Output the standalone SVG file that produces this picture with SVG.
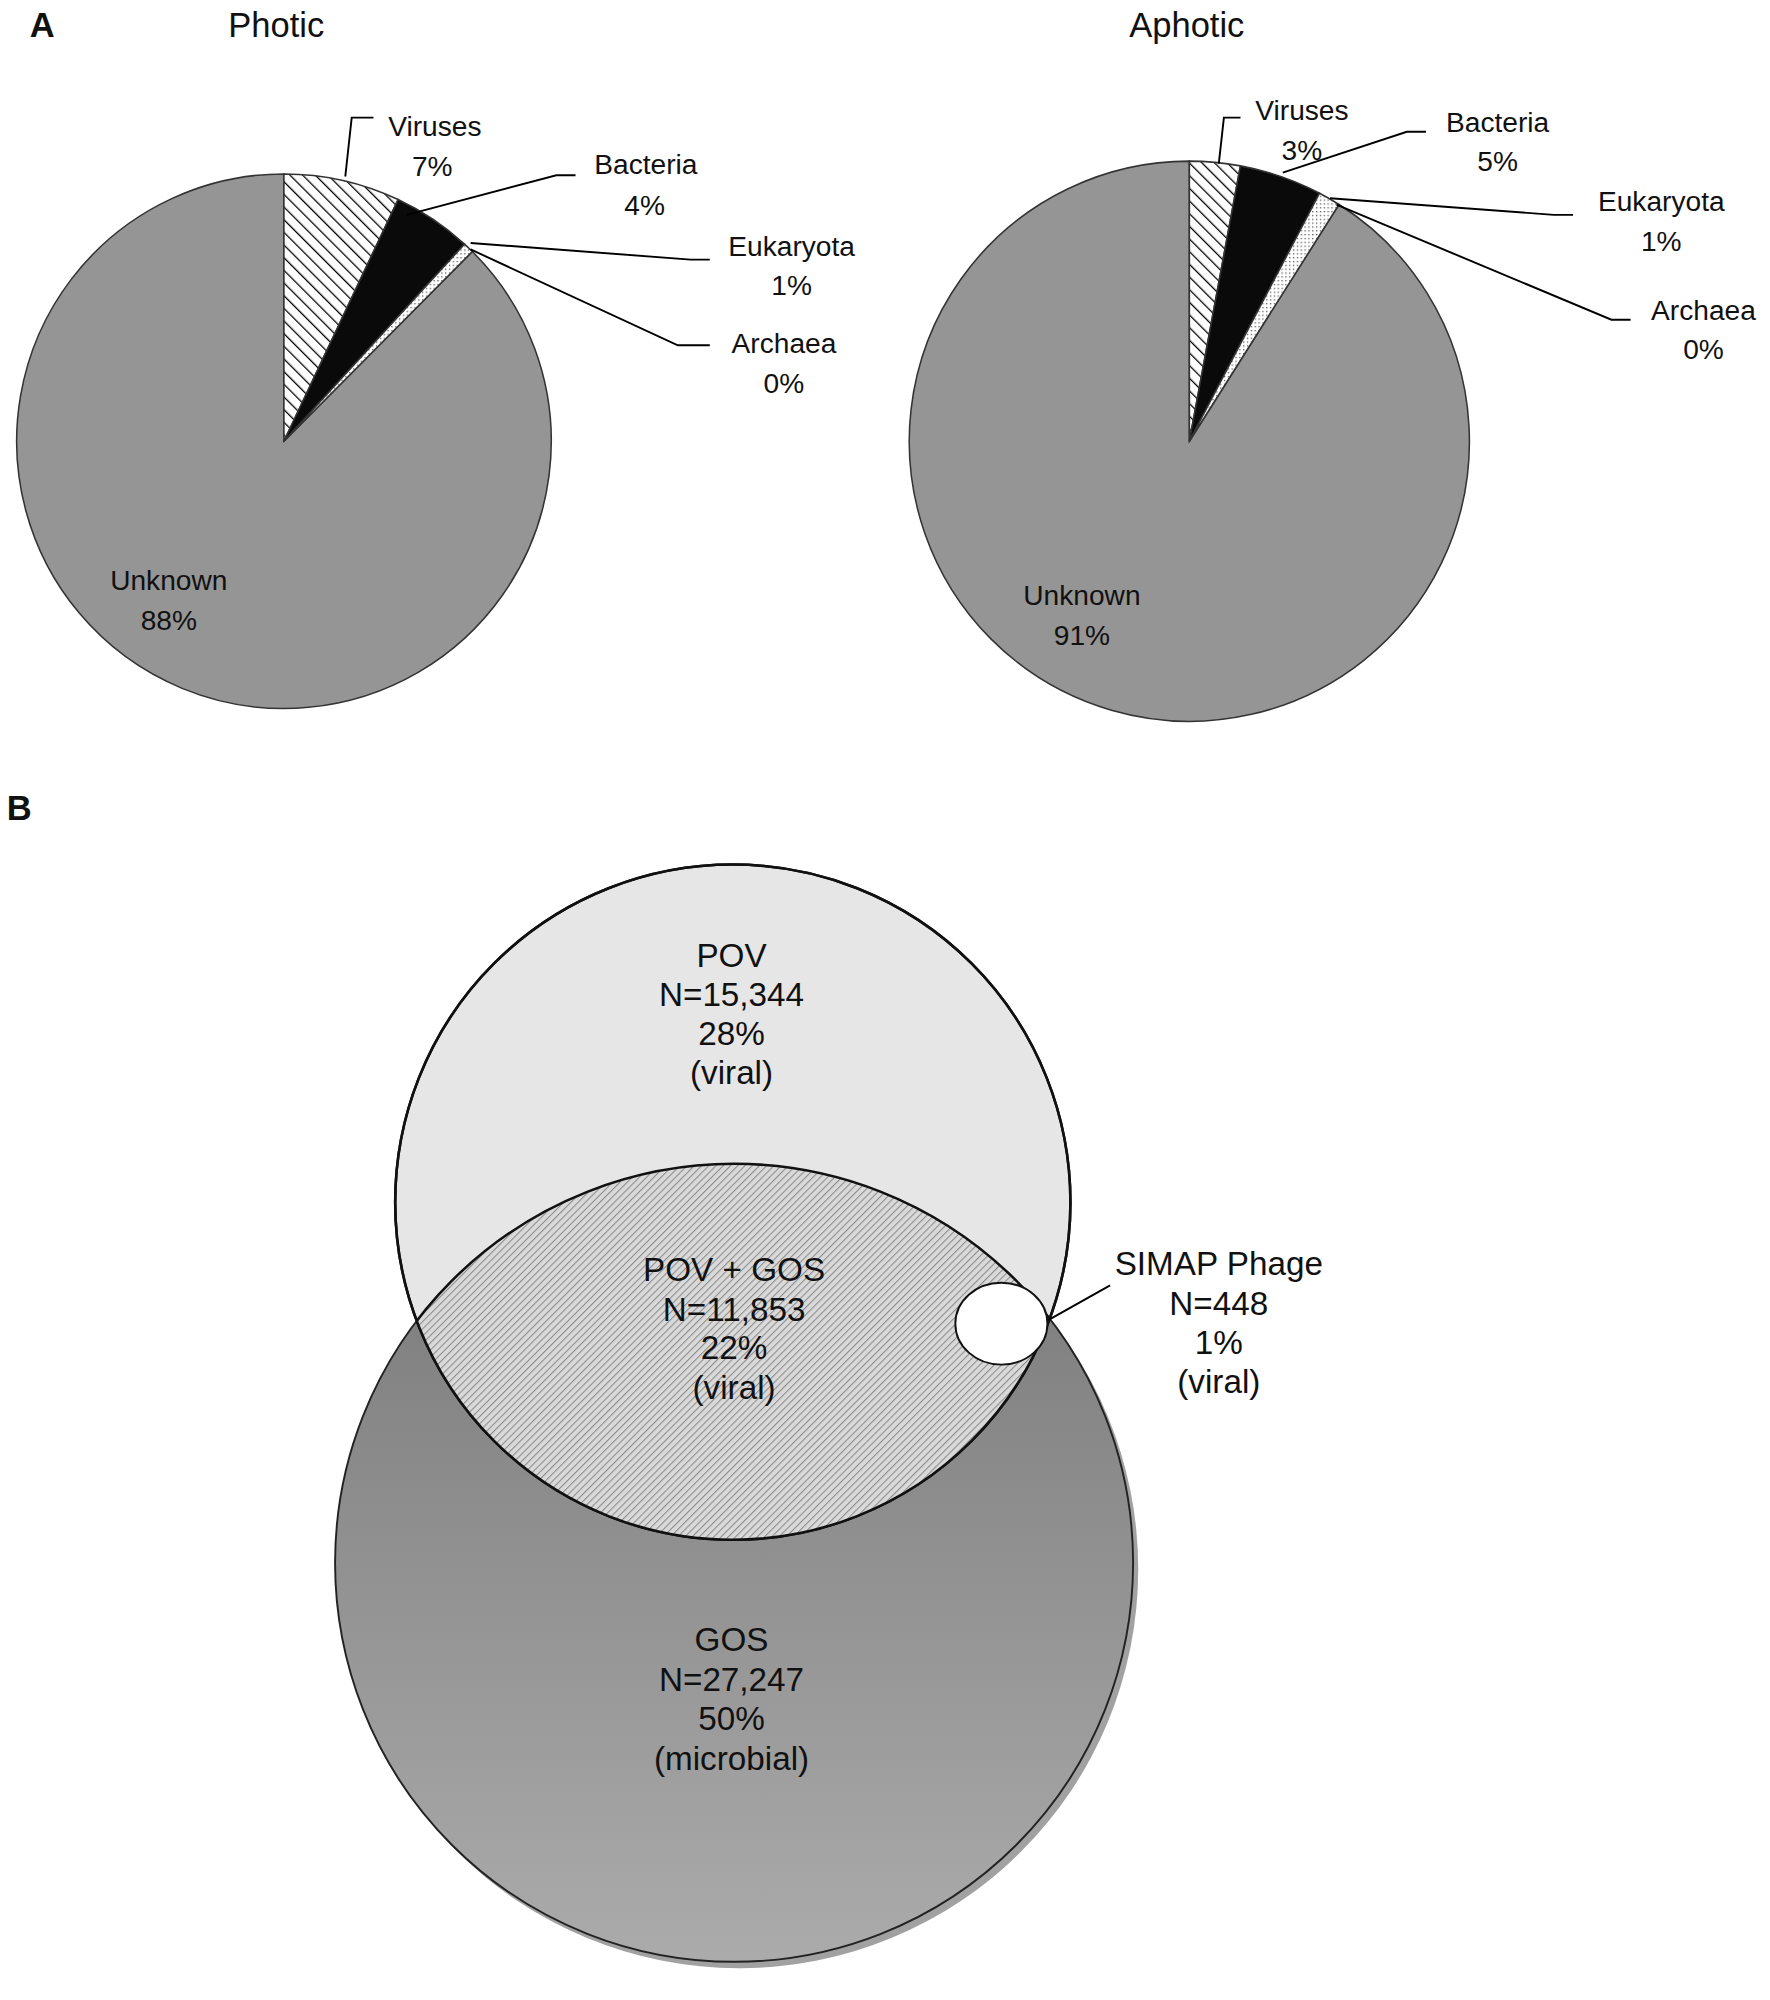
<svg xmlns="http://www.w3.org/2000/svg" width="1770" height="2000" viewBox="0 0 1770 2000">
<style>
text{font-family:"Liberation Sans",Arial,sans-serif;fill:#111;text-anchor:middle}
.lab{font-size:22px}
.ttl{font-size:27px}
.ven{font-size:26px}
.ld{fill:none;stroke:#000;stroke-width:1.5}
.sl{stroke:#333;stroke-width:1.2}
</style>
<defs>
<pattern id="hatch" width="7" height="7" patternUnits="userSpaceOnUse" patternTransform="rotate(-45)">
<rect width="7" height="7" fill="#fff"/><line x1="0" y1="0" x2="0" y2="7" stroke="#000" stroke-width="2"/>
</pattern>
<pattern id="dots" width="3" height="3" patternUnits="userSpaceOnUse">
<rect width="3" height="3" fill="#fff"/><rect width="1" height="1" fill="#555"/>
</pattern>
<pattern id="lens" width="4" height="4" patternUnits="userSpaceOnUse" patternTransform="rotate(45)">
<rect width="4" height="4" fill="#d9d9d9"/><line x1="0" y1="0" x2="0" y2="4" stroke="#8a8a8a" stroke-width="1.6"/>
</pattern>
<linearGradient id="gos" x1="0" y1="0" x2="0" y2="1">
<stop offset="0" stop-color="#777"/><stop offset="1" stop-color="#ababab"/>
</linearGradient>
<clipPath id="povClip"><circle cx="573" cy="940" r="264"/></clipPath>
</defs>
<g transform="scale(1.2789)">
<text x="33" y="29" class="ttl" style="font-weight:bold">A</text>
<text x="216" y="29" class="ttl">Photic</text>
<text x="928" y="29" class="ttl">Aphotic</text>
<text x="15" y="641" class="ttl" style="font-weight:bold">B</text>

<g id="pie-photic">
<path class="sl" d="M222,345 L369.3,196.7 A209,209 0 1 1 222,136 Z" fill="#959595"/>
<path class="sl" d="M222,345 L222,136 A209,209 0 0 1 311.3,156 Z" fill="url(#hatch)"/>
<path class="sl" d="M222,345 L311.3,156 A209,209 0 0 1 363.2,190.9 Z" fill="#0a0a0a"/>
<path class="sl" d="M222,345 L363.2,190.9 A209,209 0 0 1 369.3,196.7 Z" fill="url(#dots)"/>
<text x="132" y="461" class="lab">Unknown</text><text x="132" y="493" class="lab">88%</text>
<text x="340" y="106" class="lab">Viruses</text><text x="338" y="138" class="lab">7%</text>
<text x="505" y="136" class="lab">Bacteria</text><text x="504" y="168" class="lab">4%</text>
<text x="619" y="200" class="lab">Eukaryota</text><text x="619" y="231" class="lab">1%</text>
<text x="613" y="276" class="lab">Archaea</text><text x="613" y="307" class="lab">0%</text>
</g>

<g id="pie-aphotic">
<path class="sl" d="M930,345 L1047,159.9 A219,219 0 1 1 930,126 Z" fill="#959595"/>
<path class="sl" d="M930,345 L930,126 A219,219 0 0 1 969.9,129.7 Z" fill="url(#hatch)"/>
<path class="sl" d="M930,345 L969.9,129.7 A219,219 0 0 1 1031.8,151.1 Z" fill="#0a0a0a"/>
<path class="sl" d="M930,345 L1031.8,151.1 A219,219 0 0 1 1047,159.9 Z" fill="url(#dots)"/>
<text x="846" y="473" class="lab">Unknown</text><text x="846" y="504" class="lab">91%</text>
<text x="1018" y="94" class="lab">Viruses</text><text x="1018" y="125" class="lab">3%</text>
<text x="1171" y="103" class="lab">Bacteria</text><text x="1171" y="134" class="lab">5%</text>
<text x="1299" y="165" class="lab">Eukaryota</text><text x="1299" y="196" class="lab">1%</text>
<text x="1332" y="250" class="lab">Archaea</text><text x="1332" y="281" class="lab">0%</text>
</g>

<g id="venn-gos">
<circle cx="578" cy="1227" r="312" fill="#444" opacity="0.5"/>
<circle cx="574" cy="1222" r="312" fill="url(#gos)" stroke="#222" stroke-width="1.5"/>
<text x="572" y="1291" class="ven">GOS</text><text x="572" y="1322" class="ven">N=27,247</text>
<text x="572" y="1353" class="ven">50%</text><text x="572" y="1384" class="ven">(microbial)</text>
</g>
<g id="venn-pov">
<circle cx="573" cy="940" r="264" fill="#e6e6e6" stroke="#111" stroke-width="2"/>
<text x="572" y="756" class="ven">POV</text><text x="572" y="787" class="ven">N=15,344</text>
<text x="572" y="817" class="ven">28%</text><text x="572" y="848" class="ven">(viral)</text>
</g>
<g id="venn-overlap">
<circle cx="574" cy="1222" r="312" fill="url(#lens)" stroke="#111" stroke-width="2" clip-path="url(#povClip)"/>
<circle cx="573" cy="940" r="264" fill="none" stroke="#111" stroke-width="2"/>
<text x="574" y="1002" class="ven">POV + GOS</text><text x="574" y="1033" class="ven">N=11,853</text>
<text x="574" y="1063" class="ven">22%</text><text x="574" y="1094" class="ven">(viral)</text>
</g>
<g id="venn-simap">
<ellipse cx="783" cy="1035" rx="36" ry="32" fill="#fff" stroke="#111" stroke-width="1.5"/>
<text x="953" y="997" class="ven">SIMAP Phage</text><text x="953" y="1028" class="ven">N=448</text>
<text x="953" y="1059" class="ven">1%</text><text x="953" y="1089" class="ven">(viral)</text>
</g>

<g id="connectors">
<polyline class="ld" points="270,138 275,92 292,92"/>
<polyline class="ld" points="318,168 435,137 450,137"/>
<polyline class="ld" points="368,190 540,203 555,203"/>
<polyline class="ld" points="368,195 530,270 555,270"/>
<polyline class="ld" points="953,128 957,92 970,92"/>
<polyline class="ld" points="1003,135 1100,103 1115,103"/>
<polyline class="ld" points="1040,155 1215,168 1230,168"/>
<polyline class="ld" points="1045,160 1260,250 1275,250"/>
<line class="ld" x1="820" y1="1032" x2="868" y2="1005"/>
</g>
</g>
</svg>
